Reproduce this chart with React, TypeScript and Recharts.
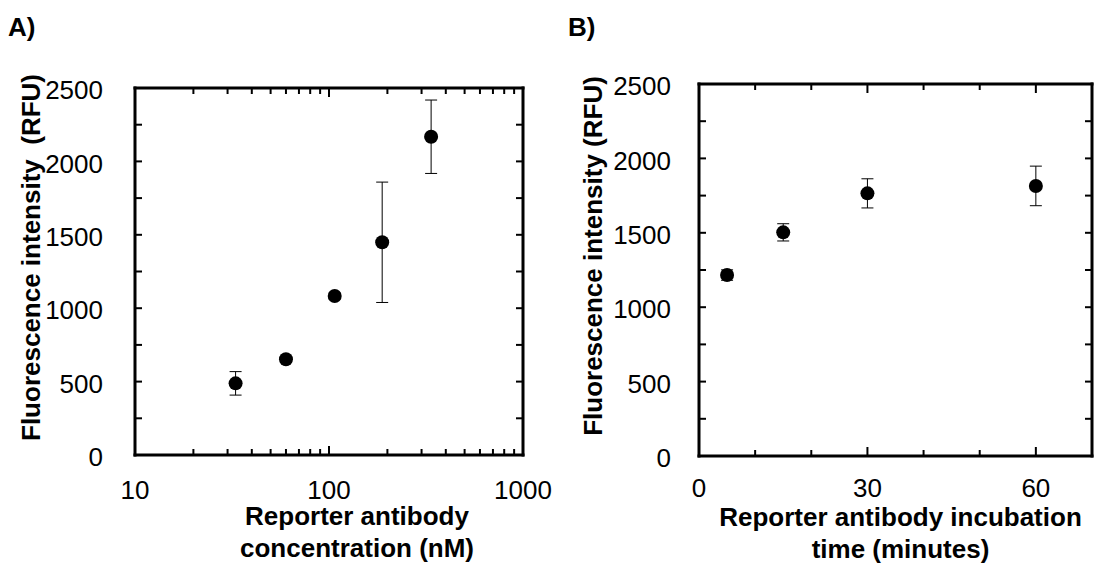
import { ScatterChart, Scatter, XAxis, YAxis, ErrorBar, ReferenceLine } from "recharts";

const FONT = '"Liberation Sans", Arial, Helvetica, sans-serif';

// Panel A: reporter antibody concentration
const concNM = [33, 60, 107, 188, 336];
const concRFU = [488, 652, 1083, 1449, 2168];
const concSD = [80, 20, 20, 410, 250];

// Panel B: incubation time
const timeMin = [5, 15, 30, 60];
const timeRFU = [1216, 1503, 1765, 1815];
const timeSD = [35, 58, 98, 133];

const concTickLabels = [10, 100, 1000];
const concTicks = [10, 20, 30, 40, 50, 60, 70, 80, 90, 100, 200, 300, 400, 500, 600, 700, 800, 900, 1000];
const concMajor = [100];
const timeTickLabels = [0, 30, 60];
const timeTicks = [0, 10, 20, 30, 40, 50, 60, 70];
const timeMajor = [30, 60];
const rfuTickLabels = [0, 500, 1000, 1500, 2000, 2500];
const rfuTicks = [250, 500, 750, 1000, 1250, 1500, 1750, 2000, 2250];

const TOP_AXIS_H = 20;
const frameLine = { stroke: "#000", strokeWidth: 3, strokeLinecap: "square" as const };
const tickFont = { fontSize: 26, fill: "#000", fontFamily: FONT };

const Dot = (props: any) => <circle cx={props.cx} cy={props.cy} r={7} fill="#000" />;

// inward tick marks, drawn from the tick position the axis hands over
const inwardTick = (dx: number, dy: number) => (props: any) => (
  <line x1={props.x} y1={props.y} x2={props.x + dx} y2={props.y + dy} stroke="#000" strokeWidth={2} />
);

interface PanelProps {
  data: { x: number; y: number; err: number }[];
  width: number;
  margin: { top: number; right: number; bottom: number; left: number };
  yAxisWidth: number;
  yTickGap: number;
  yTitle: string;
  yTitleX: number;
  xScale: "log" | "linear";
  xDomain: [number, number];
  xLabels: number[];
  xTicks: number[];
  xMajor: number[];
  xTickGap: number;
  xTitle: string[];
  xTitleDx: number;
}

const Panel = (p: PanelProps) => {
  const xCommon = {
    type: "number" as const,
    scale: p.xScale,
    domain: p.xDomain,
    allowDataOverflow: true,
    interval: 0 as const,
  };
  const yCommon = {
    type: "number" as const,
    domain: [0, 2500],
    allowDataOverflow: true,
    interval: 0 as const,
  };
  const isEdge = (v: number) => v === p.xDomain[0] || v === p.xDomain[1];
  const tickLen = (v: number) => (p.xMajor.includes(v) ? 9 : 6);
  const innerTicks = p.xTicks.filter((v) => !isEdge(v));

  // bottom axis: label plus an inward tick line
  const BottomTick = (props: any) => {
    const v = props.payload.value;
    const y0 = props.y - p.xTickGap;
    return (
      <g>
        {!isEdge(v) && (
          <line x1={props.x} y1={y0} x2={props.x} y2={y0 - tickLen(v)} stroke="#000" strokeWidth={2} />
        )}
        {p.xLabels.includes(v) && (
          <text x={props.x} y={props.y} dy="0.71em" textAnchor="middle" {...tickFont}>
            {v}
          </text>
        )}
      </g>
    );
  };

  // top ticks: a reference line per tick, drawn only as a short stub at the top edge
  const topStub = (v: number) => (sp: any) => {
    const top = Math.min(sp.y1, sp.y2);
    return <line x1={sp.x1} y1={top} x2={sp.x1} y2={top + tickLen(v)} stroke="#000" strokeWidth={2} />;
  };

  return (
    <ScatterChart width={p.width} height={576} margin={{ ...p.margin, top: p.margin.top - TOP_AXIS_H }}>
      <XAxis
        xAxisId="lab"
        dataKey="x"
        {...xCommon}
        ticks={p.xTicks}
        height={60}
        axisLine={frameLine}
        tickLine={false}
        tickSize={0}
        tickMargin={p.xTickGap}
        tick={BottomTick}
        label={{
          content: (lp: any) => {
            const vb = lp.viewBox;
            const cx = vb.x + vb.width / 2 + p.xTitleDx;
            return (
              <text textAnchor="middle" fontFamily={FONT} fontWeight="bold" fontSize={26} fill="#000">
                {p.xTitle.map((line, i) => (
                  <tspan key={i} x={cx} y={vb.y + 70 + i * 32}>
                    {line}
                  </tspan>
                ))}
              </text>
            );
          },
        }}
      />
      <XAxis
        xAxisId="top"
        orientation="top"
        {...xCommon}
        ticks={p.xTicks}
        height={TOP_AXIS_H}
        tickLine={false}
        tick={false}
        axisLine={frameLine}
      />
      <YAxis
        yAxisId="lab"
        dataKey="y"
        {...yCommon}
        ticks={rfuTickLabels}
        width={p.yAxisWidth}
        axisLine={false}
        tickLine={false}
        tickSize={0}
        tickMargin={p.yTickGap}
        tick={{ ...tickFont, dy: 2 }}
        label={{
          content: (lp: any) => {
            const vb = lp.viewBox;
            const x = vb.x + p.yTitleX;
            const y = vb.y + vb.height / 2 - 14;
            return (
              <text
                x={x}
                y={y}
                transform={`rotate(-90, ${x}, ${y})`}
                textAnchor="middle"
                dominantBaseline="central"
                fontFamily={FONT}
                fontWeight="bold"
                fontSize={26}
                fill="#000"
                style={{ whiteSpace: "pre" }}
              >
                {p.yTitle}
              </text>
            );
          },
        }}
      />
      <YAxis yAxisId="lTick" orientation="left" mirror {...yCommon} width={1} tickLine={false} tickSize={0} tickMargin={0} ticks={rfuTicks} tick={inwardTick(7, 0)} axisLine={frameLine} />
      <YAxis yAxisId="rTick" orientation="right" mirror {...yCommon} width={1} tickLine={false} tickSize={0} tickMargin={0} ticks={rfuTicks} tick={inwardTick(-7, 0)} axisLine={frameLine} />
      {innerTicks.map((v) => (
        <ReferenceLine key={v} x={v} xAxisId="lab" yAxisId="lab" shape={topStub(v)} />
      ))}
      <Scatter xAxisId="lab" yAxisId="lab" data={p.data} dataKey="y" shape={Dot} isAnimationActive={false}>
        <ErrorBar dataKey="err" direction="y" width={6} stroke="#000" strokeWidth={1} isAnimationActive={false} />
      </Scatter>
    </ScatterChart>
  );
};

const concData = concNM.map((x, i) => ({ x, y: concRFU[i], err: concSD[i] }));
const timeData = timeMin.map((x, i) => ({ x, y: timeRFU[i], err: timeSD[i] }));

const panelLetter = (left: number) => ({
  position: "absolute" as const,
  left,
  top: 12,
  fontFamily: FONT,
  fontWeight: "bold" as const,
  fontSize: 26,
  lineHeight: "30px",
  color: "#000",
});

export default function App() {
  return (
    <div style={{ position: "absolute", left: 0, top: 0, width: 1113, height: 576, background: "#fff" }}>
      <div style={panelLetter(8)}>A)</div>
      <div style={panelLetter(568)}>B)</div>
      <div style={{ position: "absolute", left: 0, top: 0 }}>
        <Panel
          data={concData}
          width={560}
          margin={{ top: 88, right: 37, bottom: 61, left: 0 }}
          yAxisWidth={135}
          yTickGap={32}
          yTitle="Fluorescence intensity  (RFU)"
          yTitleX={31}
          xScale="log"
          xDomain={[10, 1000]}
          xLabels={concTickLabels}
          xTicks={concTicks}
          xMajor={concMajor}
          xTickGap={26}
          xTitle={["Reporter antibody", "concentration (nM)"]}
          xTitleDx={28}
        />
      </div>
      <div style={{ position: "absolute", left: 560, top: 0 }}>
        <Panel
          data={timeData}
          width={553}
          margin={{ top: 84, right: 21, bottom: 60, left: 0 }}
          yAxisWidth={139}
          yTickGap={28}
          yTitle="Fluorescence intensity (RFU)"
          yTitleX={33}
          xScale="linear"
          xDomain={[0, 70]}
          xLabels={timeTickLabels}
          xTicks={timeTicks}
          xMajor={timeMajor}
          xTickGap={23}
          xTitle={["Reporter antibody incubation", "time (minutes)"]}
          xTitleDx={5}
        />
      </div>
    </div>
  );
}
